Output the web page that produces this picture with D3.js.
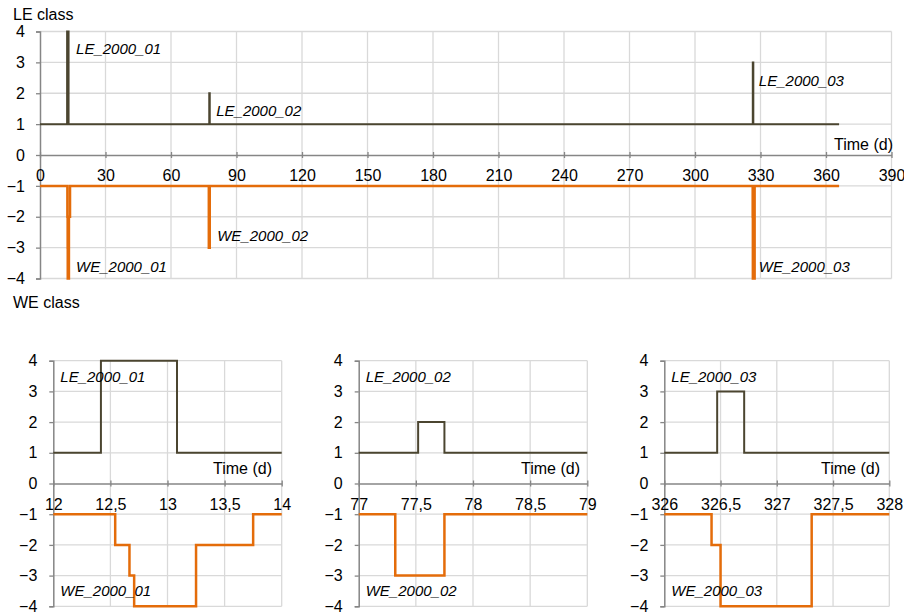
<!DOCTYPE html>
<html>
<head>
<meta charset="utf-8">
<script src="https://cdn.jsdelivr.net/npm/d3@7"></script>
<style>
  html, body { margin: 0; padding: 0; background: #fff; }
  svg { display: block; font-family: "Liberation Sans", Arial, sans-serif; }
</style>
</head>
<body>
<svg id="chart" width="904" height="613"></svg>
<script>
// LE class series (change times in days, class value held until the next change)
const leTime  = [0, 12.417, 13.083, 77.52, 77.75, 326.47, 326.71, 366];
const leClass = [1, 4, 1, 2, 1, 3, 1, 1];

// WE class series (negative side)
const weTime  = [0, 12.542, 12.667, 12.708, 13.25, 13.75, 77.32, 77.75, 326.42, 326.5, 327.31, 366];
const weClass = [-1, -2, -3, -4, -2, -1, -3, -1, -2, -4, -1, -1];

// Event names and the time they are pinned to in the year view
const leEvents = ["LE_2000_01", "LE_2000_02", "LE_2000_03"];
const weEvents = ["WE_2000_01", "WE_2000_02", "WE_2000_03"];
const eventTime = [12.4, 77.5, 326.5];

// Axis ticks
const yearTicks  = [0, 30, 60, 90, 120, 150, 180, 210, 240, 270, 300, 330, 360, 390];
const classTicks = [-4, -3, -2, -1, 0, 1, 2, 3, 4];
const zoomStart  = [12, 77, 326];

const LE_COLOR = "#4b4530";
const WE_COLOR = "#e46c0a";
const GRID = "#d9d9d9";
const AXIS = "#868686";
const FS = 16;      // axis and title text
const FS_LBL = 15;  // italic event labels

const svg = d3.select("#chart");
const leData = leTime.map((t, i) => ({ t, v: leClass[i] }));
const weData = weTime.map((t, i) => ({ t, v: weClass[i] }));

let clipId = 0;

function panel(opt) {
  const x = d3.scaleLinear().domain(opt.xDomain).range(opt.xRange);
  const y = d3.scaleLinear().domain([-4, 4]).range(opt.yRange);
  const g = svg.append("g");

  // grid
  g.append("g").selectAll("line").data(classTicks.filter(d => d !== 0)).join("line")
    .attr("x1", opt.xRange[0]).attr("x2", opt.xRange[1])
    .attr("y1", d => y(d)).attr("y2", d => y(d))
    .attr("stroke", GRID).attr("stroke-width", 1.3);
  g.append("g").selectAll("line").data(opt.xTicks.slice(1)).join("line")
    .attr("x1", d => x(d)).attr("x2", d => x(d))
    .attr("y1", y(4)).attr("y2", y(-4))
    .attr("stroke", GRID).attr("stroke-width", 1.3);

  // y axis
  const ya = g.append("g").attr("transform", `translate(${opt.xRange[0]},0)`)
    .call(d3.axisLeft(y).tickValues(classTicks).tickSize(4).tickPadding(opt.yPad).tickFormat(d3.format("d")));
  ya.select(".domain").attr("stroke", AXIS).attr("stroke-width", 1.5);
  ya.selectAll(".tick line").attr("stroke", AXIS).attr("stroke-width", 1.3);
  ya.selectAll("text").attr("fill", "#000").style("font-size", FS + "px")
    .style("font-family", "Liberation Sans, Arial, sans-serif");

  // x axis at class 0, with ticks crossing the line and labels below
  const xa = g.append("g").attr("transform", `translate(0,${y(0)})`)
    .call(d3.axisBottom(x).tickValues(opt.xTicks).tickSizeInner(3).tickSizeOuter(0).tickPadding(12).tickFormat(opt.fmt));
  xa.select(".domain").attr("stroke", AXIS).attr("stroke-width", 1.5);
  xa.selectAll(".tick line").attr("stroke", AXIS).attr("stroke-width", 1.3).attr("y1", -3).attr("y2", 3);
  xa.selectAll("text").attr("fill", "#000").style("font-size", FS + "px")
    .style("font-family", "Liberation Sans, Arial, sans-serif");

  // series, clipped to the plot window
  const id = "clip" + (clipId++);
  svg.append("clipPath").attr("id", id).append("rect")
    .attr("x", opt.xRange[0]).attr("y", y(4) - 5)
    .attr("width", opt.xRange[1] - opt.xRange[0]).attr("height", y(-4) - y(4) + 10);

  const line = d3.line().x(d => x(d.t)).y(d => y(d.v)).curve(d3.curveStepAfter);
  const lines = g.append("g").attr("clip-path", `url(#${id})`);
  lines.append("path").datum(weData).attr("d", line)
    .attr("fill", "none").attr("stroke", WE_COLOR).attr("stroke-width", 2.5);
  lines.append("path").datum(leData).attr("d", line)
    .attr("fill", "none").attr("stroke", LE_COLOR).attr("stroke-width", 2);

  // "Time (d)" axis title
  g.append("text").attr("x", opt.timeX).attr("y", opt.timeY)
    .attr("text-anchor", "end").attr("dominant-baseline", "central")
    .style("font-size", FS + "px").text("Time (d)");

  // event labels
  opt.labels.forEach(l => {
    g.append("text").attr("x", l.x).attr("y", y(l.v))
      .attr("dominant-baseline", "central").style("font-style", "italic")
      .style("font-size", FS_LBL + "px").text(l.text);
  });
  return { x, y };
}

// Full-year view
const yearX = d3.scaleLinear().domain([0, 390]).range([40, 891.5]);
panel({
  xDomain: [0, 390], xRange: [40, 891.5], yRange: [278.5, 31.5],
  xTicks: yearTicks, fmt: d3.format("d"), yPad: 11,
  timeX: 893, timeY: 144,
  labels: [
    { text: leEvents[0], x: yearX(eventTime[0]) + 9, v: 3.45 },
    { text: leEvents[1], x: yearX(eventTime[1]) + 7, v: 1.45 },
    { text: leEvents[2], x: yearX(eventTime[2]) + 6, v: 2.4 },
    { text: weEvents[0], x: yearX(eventTime[0]) + 9, v: -3.6 },
    { text: weEvents[1], x: yearX(eventTime[1]) + 8, v: -2.6 },
    { text: weEvents[2], x: yearX(eventTime[2]) + 6, v: -3.6 }
  ]
});

// Zoomed two-day windows around each event
const commaFmt = d => String(d).replace(".", ",");
const zoomX = [[53.3, 281.7], [358.7, 587.3], [664.3, 889.3]];
const timeRight = [272, 580, 880];
zoomStart.forEach((s, i) => {
  const ticks = d3.range(0, 5).map(k => s + k * 0.5);
  panel({
    xDomain: [s, s + 2], xRange: zoomX[i], yRange: [606.3, 360.7],
    xTicks: ticks, fmt: commaFmt, yPad: 12,
    timeX: timeRight[i], timeY: 468,
    labels: [
      { text: leEvents[i], x: zoomX[i][0] + 7, v: 3.5 },
      { text: weEvents[i], x: zoomX[i][0] + 7, v: -3.5 }
    ]
  });
});

// Class titles
svg.append("text").attr("x", 13).attr("y", 14).attr("dominant-baseline", "central")
  .style("font-size", FS + "px").text("LE class");
svg.append("text").attr("x", 13).attr("y", 302.5).attr("dominant-baseline", "central")
  .style("font-size", FS + "px").text("WE class");
</script>
</body>
</html>
